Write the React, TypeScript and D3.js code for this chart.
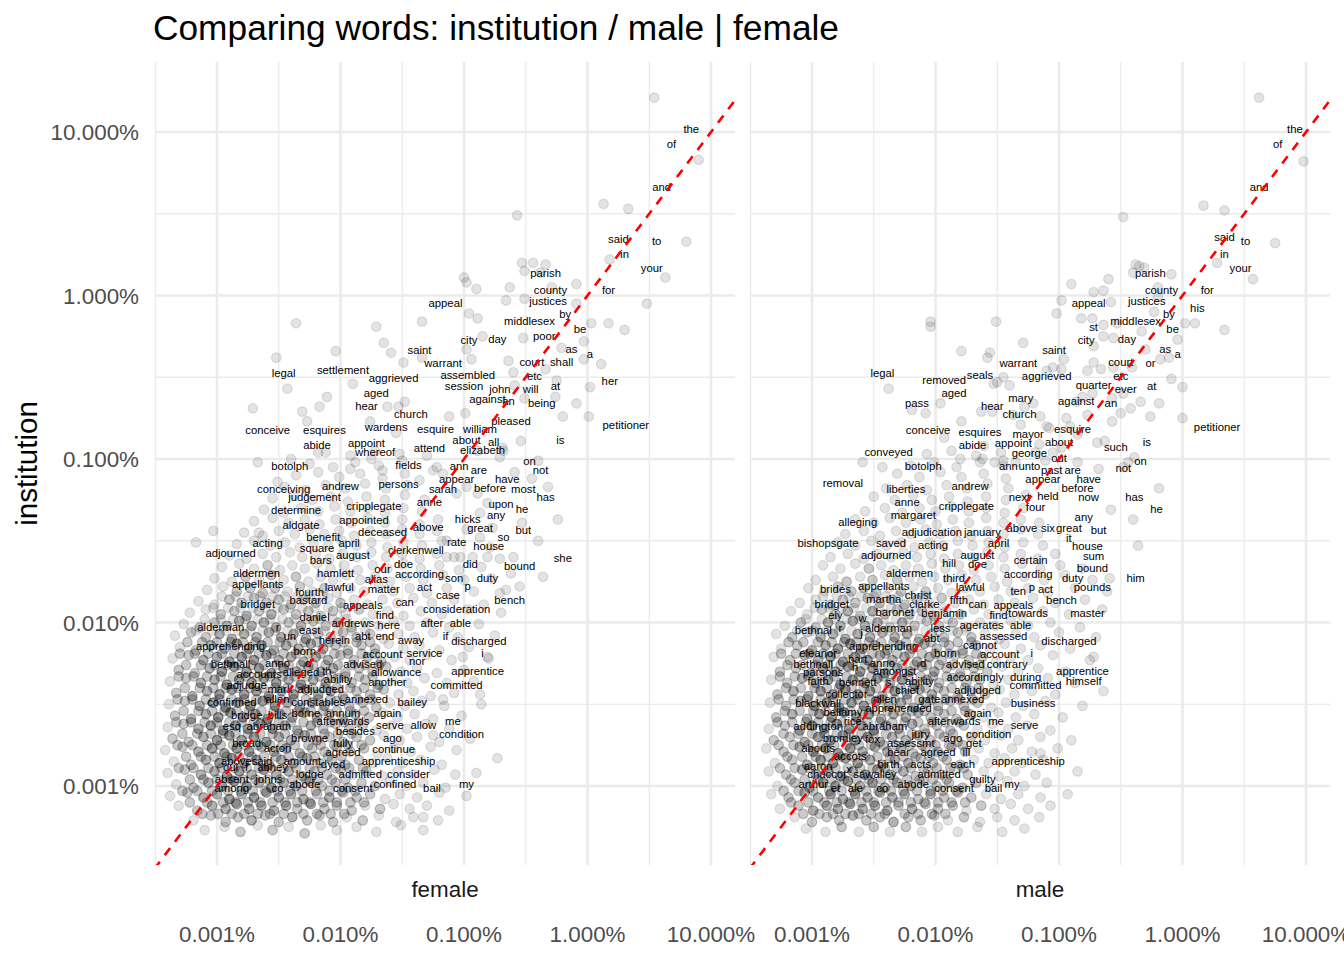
import * as d3 from "d3";
import React, { useEffect, useRef } from "react";

// every share below is log10 of the word's percentage in its corpus
const panels = ["female", "male"];
const tickValues = [0.001, 0.01, 0.1, 1, 10];
const tickLabels = ["0.001%", "0.010%", "0.100%", "1.000%", "10.000%"];
const minorTicks = [0.0003162, 0.003162, 0.03162, 0.3162, 3.162];

// [word, female, institution]
const femaleLabels: [string, number, number][] = [
  ["the", 0.84, 1.07], ["of", 0.68, 0.98], ["and", 0.6, 0.72], ["said", 0.25, 0.4], ["to", 0.56, 0.39],
  ["in", 0.3, 0.31], ["your", 0.52, 0.22], ["parish", -0.34, 0.19], ["county", -0.3, 0.09], ["for", 0.17, 0.09],
  ["justices", -0.32, 0.02], ["appeal", -1.15, 0.01], ["by", -0.18, -0.06], ["middlesex", -0.47, -0.1],
  ["be", -0.06, -0.15], ["poor", -0.35, -0.19], ["day", -0.73, -0.21], ["city", -0.96, -0.22], ["as", -0.13, -0.27],
  ["a", 0.02, -0.3], ["saint", -1.36, -0.28], ["court", -0.45, -0.35], ["shall", -0.21, -0.35], ["warrant", -1.17, -0.36],
  ["legal", -2.46, -0.42], ["settlement", -1.98, -0.4], ["aggrieved", -1.57, -0.45], ["assembled", -0.97, -0.43],
  ["etc", -0.43, -0.44], ["her", 0.18, -0.47], ["session", -1.0, -0.5], ["john", -0.71, -0.52], ["will", -0.46, -0.52],
  ["at", -0.26, -0.5], ["aged", -1.71, -0.54], ["against", -0.81, -0.58], ["an", -0.64, -0.59], ["being", -0.37, -0.6],
  ["hear", -1.79, -0.62], ["church", -1.43, -0.67], ["pleased", -0.62, -0.71], ["petitioner", 0.31, -0.74],
  ["conceive", -2.59, -0.77], ["esquires", -2.13, -0.77], ["wardens", -1.63, -0.75], ["esquire", -1.23, -0.76],
  ["william", -0.87, -0.76], ["abide", -2.19, -0.86], ["appoint", -1.79, -0.85], ["whereof", -1.72, -0.9],
  ["attend", -1.28, -0.88], ["about", -0.98, -0.83], ["all", -0.76, -0.84], ["elizabeth", -0.85, -0.89], ["is", -0.22, -0.83],
  ["botolph", -2.41, -0.99], ["fields", -1.45, -0.98], ["ann", -1.04, -0.99], ["are", -0.88, -1.01], ["on", -0.47, -0.96],
  ["not", -0.38, -1.01], ["conceiving", -2.46, -1.13], ["andrew", -2.0, -1.11], ["persons", -1.53, -1.1],
  ["appear", -1.06, -1.07], ["have", -0.65, -1.07], ["sarah", -1.17, -1.13], ["before", -0.79, -1.12], ["most", -0.52, -1.13],
  ["has", -0.34, -1.18], ["judgement", -2.21, -1.18], ["cripplegate", -1.73, -1.23], ["anne", -1.28, -1.21],
  ["upon", -0.7, -1.22], ["he", -0.53, -1.25], ["determine", -2.36, -1.26], ["any", -0.74, -1.29], ["appointed", -1.81, -1.32],
  ["hicks", -0.97, -1.31], ["aldgate", -2.32, -1.35], ["above", -1.29, -1.36], ["great", -0.87, -1.37], ["but", -0.52, -1.38],
  ["benefit", -2.14, -1.42], ["deceased", -1.66, -1.39], ["so", -0.68, -1.42], ["acting", -2.59, -1.46], ["april", -1.93, -1.46],
  ["rate", -1.06, -1.45], ["house", -0.8, -1.48], ["square", -2.19, -1.49], ["clerkenwell", -1.39, -1.5], ["she", -0.2, -1.55],
  ["adjourned", -2.89, -1.52], ["bars", -2.16, -1.56], ["august", -1.9, -1.53], ["did", -0.95, -1.59], ["doe", -1.49, -1.59],
  ["bound", -0.55, -1.6], ["aldermen", -2.68, -1.64], ["hamlett", -2.04, -1.64], ["our", -1.66, -1.62], ["according", -1.36, -1.65],
  ["son", -1.08, -1.67], ["duty", -0.81, -1.67], ["alias", -1.71, -1.68], ["appellants", -2.67, -1.71], ["fourth", -2.25, -1.76],
  ["lawful", -2.01, -1.73], ["matter", -1.65, -1.74], ["act", -1.32, -1.73], ["p", -0.97, -1.72], ["case", -1.13, -1.78],
  ["bastard", -2.26, -1.81], ["bench", -0.63, -1.81], ["bridget", -2.67, -1.83], ["appeals", -1.82, -1.84], ["can", -1.48, -1.82],
  ["consideration", -1.06, -1.86], ["find", -1.64, -1.9], ["daniel", -2.21, -1.91], ["alderman", -2.97, -1.97], ["r", -2.51, -1.97],
  ["andrews", -1.9, -1.95], ["here", -1.61, -1.96], ["after", -1.26, -1.95], ["able", -1.03, -1.95], ["east", -2.25, -1.99],
  ["un", -2.41, -2.03], ["herein", -2.05, -2.05], ["abt", -1.82, -2.03], ["end", -1.64, -2.03], ["away", -1.43, -2.05],
  ["if", -1.15, -2.03], ["discharged", -0.88, -2.06], ["apprehending", -2.89, -2.09], ["born", -2.29, -2.12],
  ["account", -1.66, -2.14], ["service", -1.32, -2.13], ["i", -0.85, -2.13], ["nor", -1.38, -2.18], ["bethnall", -2.89, -2.2],
  ["anno", -2.51, -2.19], ["d", -2.26, -2.19], ["advised", -1.82, -2.2], ["apprentice", -0.89, -2.24], ["accounts", -2.66, -2.26],
  ["alleged", -2.32, -2.25], ["th", -2.11, -2.24], ["allowance", -1.55, -2.25], ["ability", -2.02, -2.29], ["another", -1.62, -2.31],
  ["committed", -1.06, -2.33], ["adjudge", -2.76, -2.33], ["mark", -2.49, -2.35], ["adjudged", -2.16, -2.35],
  ["confirmed", -2.88, -2.43], ["allen", -2.51, -2.41], ["constables", -2.18, -2.43], ["annexed", -1.79, -2.41],
  ["bailey", -1.42, -2.43], ["bridge", -2.76, -2.51], ["bills", -2.51, -2.51], ["borne", -2.28, -2.5], ["annum", -1.98, -2.5],
  ["again", -1.62, -2.5], ["esq", -2.88, -2.58], ["abraham", -2.58, -2.58], ["afterwards", -1.98, -2.55], ["serve", -1.6, -2.57],
  ["allow", -1.33, -2.57], ["me", -1.09, -2.55], ["besides", -1.88, -2.61], ["condition", -1.02, -2.63], ["browne", -2.25, -2.65],
  ["ago", -1.58, -2.65], ["broad", -2.76, -2.68], ["acton", -2.51, -2.71], ["fully", -1.98, -2.68], ["agreed", -1.98, -2.74],
  ["continue", -1.57, -2.72], ["abovesaid", -2.76, -2.79], ["amount", -2.31, -2.79], ["apprenticeship", -1.53, -2.79],
  ["dyed", -2.06, -2.81], ["dui", -2.89, -2.83], ["f", -2.76, -2.83], ["abney", -2.55, -2.83], ["lodge", -2.25, -2.87],
  ["admitted", -1.84, -2.87], ["consider", -1.45, -2.87], ["absent", -2.88, -2.9], ["johns", -2.58, -2.9],
  ["confined", -1.56, -2.93], ["among", -2.88, -2.96], ["co", -2.51, -2.96], ["abode", -2.29, -2.93], ["consent", -1.9, -2.96],
  ["bail", -1.26, -2.96], ["my", -0.98, -2.93],
];

// [word, male, institution]
const maleLabels: [string, number, number][] = [
  ["the", 0.91, 1.07], ["of", 0.77, 0.98], ["and", 0.62, 0.72], ["said", 0.34, 0.41], ["to", 0.51, 0.39],
  ["in", 0.34, 0.31], ["your", 0.47, 0.22], ["parish", -0.26, 0.19], ["county", -0.17, 0.09], ["for", 0.2, 0.09],
  ["justices", -0.29, 0.02], ["appeal", -0.76, 0.01], ["his", 0.12, -0.02], ["by", -0.11, -0.06], ["middlesex", -0.38, -0.1],
  ["st", -0.72, -0.14], ["be", -0.08, -0.15], ["city", -0.78, -0.22], ["day", -0.45, -0.21], ["saint", -1.04, -0.28],
  ["as", -0.14, -0.27], ["a", -0.04, -0.3], ["court", -0.5, -0.35], ["or", -0.26, -0.36], ["warrant", -1.33, -0.36],
  ["legal", -2.43, -0.42], ["seals", -1.64, -0.43], ["removed", -1.93, -0.46], ["aggrieved", -1.1, -0.44], ["etc", -0.5, -0.44],
  ["quarter", -0.72, -0.49], ["ever", -0.46, -0.52], ["at", -0.25, -0.5], ["aged", -1.85, -0.54], ["mary", -1.31, -0.57],
  ["pass", -2.15, -0.6], ["against", -0.86, -0.59], ["an", -0.58, -0.6], ["hear", -1.54, -0.62], ["church", -1.32, -0.67],
  ["petitioner", 0.28, -0.75], ["conceive", -2.06, -0.77], ["esquires", -1.64, -0.78], ["esquire", -0.89, -0.76],
  ["mayor", -1.25, -0.79], ["abide", -1.7, -0.86], ["appoint", -1.37, -0.85], ["about", -1.0, -0.84], ["is", -0.29, -0.84],
  ["such", -0.54, -0.87], ["conveyed", -2.38, -0.9], ["george", -1.24, -0.91], ["out", -1.0, -0.94], ["on", -0.34, -0.96],
  ["botolph", -2.1, -0.99], ["ann", -1.41, -0.99], ["unto", -1.24, -0.99], ["not", -0.48, -1.0], ["past", -1.06, -1.01],
  ["are", -0.89, -1.01], ["removal", -2.75, -1.09], ["have", -0.76, -1.07], ["appear", -1.13, -1.07], ["liberties", -2.24, -1.13],
  ["andrew", -1.72, -1.11], ["held", -1.09, -1.17], ["before", -0.85, -1.12], ["now", -0.76, -1.18], ["has", -0.39, -1.18],
  ["next", -1.32, -1.18], ["anne", -2.23, -1.21], ["cripplegate", -1.75, -1.23], ["four", -1.19, -1.24], ["he", -0.21, -1.25],
  ["any", -0.8, -1.3], ["margaret", -2.18, -1.29], ["alleging", -2.63, -1.33], ["adjudication", -2.03, -1.39],
  ["january", -1.62, -1.39], ["above", -1.3, -1.37], ["six", -1.09, -1.37], ["great", -0.92, -1.37], ["but", -0.68, -1.38],
  ["it", -0.92, -1.43], ["bishopsgate", -2.87, -1.46], ["saved", -2.36, -1.46], ["acting", -2.02, -1.47], ["april", -1.49, -1.46],
  ["house", -0.77, -1.48], ["adjourned", -2.4, -1.53], ["august", -1.66, -1.53], ["certain", -1.23, -1.56], ["sum", -0.72, -1.54],
  ["hill", -1.89, -1.58], ["doe", -1.66, -1.59], ["bound", -0.73, -1.61], ["aldermen", -2.21, -1.64], ["according", -1.25, -1.65],
  ["third", -1.85, -1.67], ["duty", -0.89, -1.67], ["him", -0.38, -1.67], ["brides", -2.81, -1.74], ["appellants", -2.42, -1.72],
  ["lawful", -1.72, -1.73], ["p", -1.22, -1.73], ["act", -1.11, -1.74], ["pounds", -0.73, -1.73], ["ten", -1.33, -1.75],
  ["martha", -2.42, -1.8], ["christ", -2.14, -1.78], ["fifth", -1.81, -1.81], ["bench", -0.98, -1.81], ["bridget", -2.84, -1.83],
  ["clarke", -2.09, -1.83], ["can", -1.66, -1.83], ["appeals", -1.37, -1.84], ["ely", -2.81, -1.9], ["baronet", -2.33, -1.88],
  ["benjamin", -1.93, -1.89], ["find", -1.49, -1.9], ["towards", -1.25, -1.89], ["master", -0.77, -1.89], ["w", -2.59, -1.92],
  ["bethnal", -2.99, -1.99], ["r", -2.77, -1.98], ["j", -2.6, -2.01], ["alderman", -2.38, -1.98], ["less", -1.96, -1.98],
  ["age", -1.73, -1.96], ["rates", -1.55, -1.96], ["able", -1.31, -1.96], ["abt", -2.03, -2.04], ["assessed", -1.45, -2.03],
  ["discharged", -0.92, -2.06], ["apprehending", -2.42, -2.09], ["cannot", -1.64, -2.08], ["eleanor", -2.95, -2.13],
  ["born", -1.92, -2.13], ["account", -1.48, -2.14], ["i", -1.22, -2.13], ["bethnall", -2.99, -2.2], ["hart", -2.63, -2.17],
  ["anno", -2.43, -2.19], ["d", -2.1, -2.19], ["advised", -1.76, -2.2], ["contrary", -1.42, -2.2], ["h", -2.65, -2.22],
  ["amongst", -2.33, -2.24], ["apprentice", -0.81, -2.24], ["parsons", -2.91, -2.25], ["accordingly", -1.68, -2.28],
  ["during", -1.27, -2.28], ["faith", -2.95, -2.3], ["bennett", -2.63, -2.31], ["s", -2.38, -2.31], ["ability", -2.13, -2.3],
  ["himself", -0.8, -2.3], ["committed", -1.19, -2.33], ["collector", -2.72, -2.38], ["chief", -2.23, -2.36],
  ["adjudged", -1.66, -2.36], ["blackwall", -2.95, -2.44], ["allen", -2.41, -2.41], ["gate", -2.05, -2.41], ["annexed", -1.78, -2.41],
  ["business", -1.21, -2.44], ["bellamy", -2.75, -2.49], ["apprehended", -2.3, -2.47], ["again", -1.66, -2.5], ["rice", -2.67, -2.55],
  ["afterwards", -1.85, -2.55], ["me", -1.51, -2.55], ["serve", -1.28, -2.57], ["addington", -2.95, -2.58], ["abraham", -2.41, -2.58],
  ["jury", -2.12, -2.63], ["condition", -1.57, -2.63], ["bromley", -2.75, -2.65], ["fox", -2.51, -2.66], ["ago", -1.86, -2.65],
  ["assessmt", -2.2, -2.68], ["get", -1.69, -2.68], ["abouts", -2.95, -2.71], ["accots", -2.69, -2.76], ["bear", -2.3, -2.74],
  ["agreed", -1.98, -2.74], ["ill", -1.75, -2.74], ["apprenticeship", -1.25, -2.79], ["aaron", -2.95, -2.82], ["x", -2.7, -2.84],
  ["birth", -2.38, -2.81], ["acts", -2.12, -2.81], ["each", -1.78, -2.81], ["chaccot", -2.88, -2.87], ["sawalley", -2.49, -2.87],
  ["admitted", -1.97, -2.87], ["guilty", -1.62, -2.9], ["arthur", -2.99, -2.93], ["my", -1.38, -2.93], ["et", -2.81, -2.96],
  ["ale", -2.65, -2.96], ["co", -2.43, -2.96], ["abode", -2.18, -2.93], ["consent", -1.85, -2.96], ["bail", -1.53, -2.96],
];

// [female, institution, words sharing the spot]
const femaleDots: [number, number, number][] = [
  [0.54, 1.21, 1], [0.9, 0.83, 1], [-0.57, 0.49, 1], [0.13, 0.56, 1], [0.33, 0.53, 1], [0.8, 0.33, 1], [0.18, 0.22, 1],
  [0.63, 0.11, 1], [0.48, -0.05, 1], [-0.53, 0.2, 1], [-0.44, 0.2, 1], [-0.34, 0.19, 1], [-0.51, 0.15, 1], [-0.38, 0.14, 1],
  [-1.0, 0.11, 1], [-0.98, 0.08, 1], [-0.9, 0.04, 1], [-0.63, 0.05, 1], [-0.29, 0.05, 1], [-0.09, 0.07, 1], [-0.66, -0.03, 1],
  [-0.51, -0.02, 1], [-0.09, -0.05, 1], [-2.36, -0.17, 1], [-1.71, -0.19, 1], [-1.34, -0.16, 1], [-0.96, -0.11, 1],
  [-0.89, -0.14, 1], [0.03, -0.17, 1], [0.17, -0.17, 1], [0.3, -0.21, 1], [-2.52, -0.38, 1], [-2.04, -0.34, 1], [-1.65, -0.29, 1],
  [-1.59, -0.35, 1], [-1.49, -0.41, 1], [-1.34, -0.38, 1], [-0.98, -0.33, 1], [-0.94, -0.39, 1], [-0.85, -0.25, 1],
  [-0.52, -0.26, 1], [-0.03, -0.28, 1], [-0.21, -0.32, 1], [0.11, -0.42, 1], [-0.03, -0.39, 1], [-0.64, -0.4, 1], [-0.6, -0.47, 1],
  [-0.34, -0.45, 1], [-2.43, -0.57, 1], [-1.9, -0.54, 1], [-2.11, -0.62, 1], [-2.17, -0.68, 1], [-2.71, -0.69, 1], [-2.31, -0.71, 1],
  [-2.27, -0.77, 1], [0.02, -0.56, 1], [-0.25, -0.52, 1], [-0.59, -0.55, 1], [-0.51, -0.63, 1], [-0.09, -0.66, 1], [-0.26, -0.62, 1],
  [0.01, -0.74, 1], [-0.2, -0.74, 1], [-1.62, -0.68, 1], [-1.53, -0.68, 1], [-1.48, -0.65, 1], [-1.12, -0.74, 1], [-0.99, -0.72, 1],
  [-1.76, -0.77, 1], [-1.55, -0.84, 1], [-2.18, -0.96, 1], [-2.67, -1.02, 1], [-2.51, -1.14, 1], [-2.4, -1.0, 1], [-0.69, -0.93, 1],
  [-0.54, -0.89, 1], [-0.71, -0.99, 1], [-0.4, -1.01, 1], [-1.75, -1.0, 1], [-1.66, -1.07, 1], [-1.92, -1.06, 1], [-1.3, -0.98, 1],
  [-1.22, -1.05, 1], [-3.17, -1.51, 1], [-3.03, -1.44, 1], [-2.66, -1.45, 1], [-0.24, -1.37, 1], [-0.32, -1.17, 1], [-0.4, -1.5, 1],
  [-0.36, -1.72, 1], [-0.62, -1.7, 1], [-0.6, -1.6, 1], [-0.53, -1.39, 1], [-0.45, -1.12, 1], [-0.59, -1.08, 1], [-0.81, -1.27, 1],
  [-0.87, -1.33, 1], [-0.77, -1.42, 1], [-0.79, -1.54, 1], [-0.71, -1.61, 1], [-0.81, -1.6, 1], [-0.93, -1.6, 1], [-1.03, -1.6, 1],
  [-1.14, -1.6, 1], [-1.14, -1.5, 1], [-0.87, -1.48, 1], [-0.98, -1.43, 1], [-0.89, -1.21, 1], [-0.98, -1.17, 1], [-1.06, -1.21, 1],
  [-1.17, -1.09, 1], [-1.25, -1.07, 1], [-1.36, -1.13, 1], [-0.89, -0.95, 1], [-0.68, -0.95, 1], [-0.55, -1.78, 1], [-0.71, -1.82, 1],
  [-0.73, -2.83, 1], [-1.07, -2.93, 1], [-0.87, -2.44, 1], [-1.17, -2.47, 1], [-0.81, -2.21, 1], [-1.01, -2.21, 1], [-1.25, -2.69, 1],
  [-1.33, -3.19, 1],
  [-3.1, -3.27, 1], [-2.94, -3.25, 1], [-2.81, -3.28, 2], [-2.67, -3.24, 1], [-2.55, -3.27, 2], [-2.42, -3.25, 1], [-2.29, -3.29, 2],
  [-2.16, -3.24, 1], [-2.03, -3.27, 1], [-1.87, -3.25, 1], [-1.71, -3.28, 1], [-1.51, -3.24, 1], [-1.33, -3.27, 1],
  [-3.19, -3.21, 1], [-3.05, -3.18, 2], [-2.93, -3.22, 2], [-2.83, -3.19, 2], [-2.72, -3.21, 3], [-2.61, -3.18, 2], [-2.5, -3.22, 2],
  [-2.39, -3.19, 3], [-2.27, -3.21, 2], [-2.17, -3.18, 2], [-2.06, -3.22, 2], [-1.95, -3.19, 1], [-1.82, -3.21, 2], [-1.69, -3.18, 1],
  [-1.55, -3.22, 1], [-1.41, -3.19, 1], [-1.21, -3.21, 1],
  [-3.31, -3.12, 1], [-3.16, -3.15, 2], [-3.04, -3.12, 3], [-2.93, -3.14, 3], [-2.84, -3.11, 3], [-2.74, -3.14, 3], [-2.64, -3.12, 3],
  [-2.54, -3.15, 3], [-2.44, -3.12, 3], [-2.35, -3.14, 2], [-2.24, -3.11, 3], [-2.13, -3.14, 2], [-2.03, -3.12, 2], [-1.91, -3.15, 2],
  [-1.8, -3.12, 1], [-1.68, -3.14, 2], [-1.57, -3.11, 1], [-1.44, -3.14, 1], [-1.3, -3.12, 1], [-1.12, -3.15, 1],
  [-3.38, -3.06, 1], [-3.24, -3.04, 2], [-3.11, -3.07, 3], [-3.0, -3.05, 3], [-2.9, -3.08, 4], [-2.8, -3.05, 3], [-2.7, -3.07, 4],
  [-2.6, -3.04, 3], [-2.5, -3.07, 3], [-2.4, -3.05, 3], [-2.3, -3.08, 3], [-2.19, -3.05, 2], [-2.09, -3.07, 3], [-1.98, -3.04, 2],
  [-1.87, -3.07, 2], [-1.76, -3.05, 2], [-1.64, -3.08, 1], [-1.52, -3.05, 1], [-1.38, -3.07, 1], [-1.2, -3.04, 1], [-0.98, -3.06, 1],
  [-3.33, -2.99, 1], [-3.19, -3.01, 2], [-3.07, -2.98, 3], [-2.96, -3.0, 4], [-2.86, -2.97, 4], [-2.76, -3.0, 4], [-2.66, -2.98, 3],
  [-2.56, -3.01, 4], [-2.46, -2.98, 3], [-2.36, -3.0, 3], [-2.25, -2.97, 3], [-2.15, -3.0, 2], [-2.04, -2.98, 2], [-1.94, -3.01, 2],
  [-1.83, -2.98, 2], [-1.72, -3.0, 2], [-1.6, -2.97, 1], [-1.47, -3.0, 1], [-1.33, -2.98, 1], [-1.15, -3.01, 1],
  [-3.4, -2.92, 1], [-3.26, -2.9, 2], [-3.13, -2.93, 3], [-3.02, -2.91, 3], [-2.92, -2.94, 4], [-2.82, -2.91, 4], [-2.72, -2.93, 3],
  [-2.62, -2.9, 4], [-2.52, -2.93, 3], [-2.42, -2.91, 3], [-2.31, -2.94, 3], [-2.21, -2.91, 2], [-2.11, -2.93, 2], [-2.0, -2.9, 2],
  [-1.9, -2.93, 1], [-1.79, -2.91, 2], [-1.66, -2.94, 1], [-1.54, -2.91, 1], [-1.41, -2.93, 1], [-1.24, -2.9, 1], [-0.9, -2.92, 1],
  [-3.35, -2.85, 1], [-3.21, -2.87, 2], [-3.09, -2.84, 3], [-2.98, -2.86, 4], [-2.88, -2.83, 4], [-2.78, -2.86, 4], [-2.68, -2.84, 4],
  [-2.58, -2.87, 3], [-2.48, -2.84, 3], [-2.38, -2.86, 3], [-2.27, -2.83, 3], [-2.17, -2.86, 2], [-2.07, -2.84, 2], [-1.96, -2.87, 2],
  [-1.85, -2.84, 2], [-1.74, -2.86, 1], [-1.62, -2.83, 1], [-1.49, -2.86, 1], [-1.35, -2.84, 1], [-1.18, -2.87, 1],
  [-3.42, -2.78, 1], [-3.28, -2.76, 2], [-3.15, -2.79, 3], [-3.04, -2.77, 4], [-2.94, -2.8, 4], [-2.84, -2.77, 4], [-2.74, -2.79, 4],
  [-2.64, -2.76, 3], [-2.54, -2.79, 3], [-2.44, -2.77, 3], [-2.33, -2.8, 3], [-2.23, -2.77, 2], [-2.13, -2.79, 2], [-2.03, -2.76, 2],
  [-1.92, -2.79, 2], [-1.81, -2.77, 2], [-1.7, -2.8, 1], [-1.57, -2.77, 1], [-1.43, -2.79, 1], [-1.27, -2.76, 1], [-1.06, -2.78, 1],
  [-3.36, -2.71, 2], [-3.23, -2.73, 2], [-3.11, -2.7, 3], [-3.0, -2.72, 4], [-2.9, -2.69, 4], [-2.8, -2.72, 4], [-2.7, -2.7, 4],
  [-2.6, -2.73, 4], [-2.5, -2.7, 3], [-2.4, -2.72, 3], [-2.29, -2.69, 3], [-2.19, -2.72, 3], [-2.09, -2.7, 2], [-1.98, -2.73, 2],
  [-1.87, -2.7, 2], [-1.76, -2.72, 2], [-1.65, -2.69, 1], [-1.52, -2.72, 1], [-1.38, -2.7, 1], [-1.2, -2.73, 1], [-0.95, -2.71, 1],
  [-3.4, -2.64, 1], [-3.27, -2.62, 2], [-3.15, -2.65, 3], [-3.05, -2.63, 4], [-2.95, -2.66, 4], [-2.85, -2.63, 4], [-2.75, -2.65, 4],
  [-2.65, -2.62, 4], [-2.55, -2.65, 4], [-2.45, -2.63, 3], [-2.35, -2.66, 3], [-2.24, -2.63, 3], [-2.14, -2.65, 2], [-2.04, -2.62, 2],
  [-1.93, -2.65, 2], [-1.82, -2.63, 2], [-1.71, -2.66, 1], [-1.59, -2.63, 1], [-1.46, -2.65, 1], [-1.31, -2.62, 1], [-1.12, -2.65, 1],
  [-3.34, -2.57, 2], [-3.21, -2.59, 3], [-3.09, -2.56, 3], [-2.99, -2.58, 4], [-2.89, -2.55, 4], [-2.79, -2.58, 4], [-2.69, -2.56, 4],
  [-2.59, -2.59, 4], [-2.49, -2.56, 3], [-2.39, -2.58, 3], [-2.29, -2.55, 3], [-2.19, -2.58, 3], [-2.09, -2.56, 2], [-1.98, -2.59, 2],
  [-1.88, -2.56, 2], [-1.77, -2.58, 2], [-1.66, -2.55, 1], [-1.54, -2.58, 1], [-1.4, -2.56, 1], [-1.25, -2.59, 1], [-1.02, -2.57, 1],
  [-3.39, -2.5, 1], [-3.26, -2.48, 2], [-3.14, -2.51, 3], [-3.03, -2.49, 4], [-2.93, -2.52, 4], [-2.83, -2.49, 4], [-2.73, -2.51, 4],
  [-2.63, -2.48, 4], [-2.53, -2.51, 4], [-2.43, -2.49, 3], [-2.33, -2.52, 3], [-2.23, -2.49, 3], [-2.13, -2.51, 3], [-2.03, -2.48, 2],
  [-1.93, -2.51, 2], [-1.82, -2.49, 2], [-1.71, -2.52, 2], [-1.6, -2.49, 1], [-1.48, -2.51, 1], [-1.34, -2.48, 1], [-1.16, -2.51, 1],
  [-0.86, -2.5, 1],
  [-3.33, -2.43, 2], [-3.2, -2.45, 3], [-3.08, -2.42, 3], [-2.98, -2.44, 4], [-2.88, -2.41, 4], [-2.78, -2.44, 4], [-2.68, -2.42, 4],
  [-2.58, -2.45, 4], [-2.48, -2.42, 3], [-2.38, -2.44, 4], [-2.28, -2.41, 3], [-2.18, -2.44, 3], [-2.08, -2.42, 3], [-1.98, -2.45, 2],
  [-1.87, -2.42, 2], [-1.76, -2.44, 2], [-1.65, -2.41, 2], [-1.53, -2.44, 1], [-1.41, -2.42, 1], [-1.27, -2.45, 1], [-1.08, -2.43, 1],
  [-3.38, -2.36, 1], [-3.25, -2.34, 2], [-3.13, -2.37, 3], [-3.02, -2.35, 3], [-2.92, -2.38, 4], [-2.82, -2.35, 4], [-2.72, -2.37, 4],
  [-2.62, -2.34, 4], [-2.52, -2.37, 4], [-2.42, -2.35, 3], [-2.32, -2.38, 4], [-2.22, -2.35, 3], [-2.12, -2.37, 3], [-2.02, -2.34, 2],
  [-1.91, -2.37, 2], [-1.8, -2.35, 2], [-1.69, -2.38, 2], [-1.58, -2.35, 1], [-1.46, -2.37, 1], [-1.32, -2.34, 1], [-1.14, -2.37, 1],
  [-0.92, -2.36, 1],
  [-3.31, -2.29, 2], [-3.18, -2.31, 2], [-3.06, -2.28, 3], [-2.96, -2.3, 4], [-2.86, -2.27, 4], [-2.76, -2.3, 4], [-2.66, -2.28, 4],
  [-2.56, -2.31, 4], [-2.46, -2.28, 4], [-2.36, -2.3, 3], [-2.26, -2.27, 3], [-2.16, -2.3, 3], [-2.06, -2.28, 3], [-1.96, -2.31, 2],
  [-1.85, -2.28, 2], [-1.74, -2.3, 2], [-1.63, -2.27, 2], [-1.51, -2.3, 1], [-1.38, -2.28, 1], [-1.22, -2.31, 1], [-1.0, -2.29, 1],
  [-3.36, -2.22, 1], [-3.23, -2.2, 2], [-3.11, -2.23, 3], [-3.0, -2.21, 3], [-2.9, -2.24, 4], [-2.8, -2.21, 4], [-2.7, -2.23, 4],
  [-2.6, -2.2, 4], [-2.5, -2.23, 3], [-2.4, -2.21, 3], [-2.3, -2.24, 3], [-2.2, -2.21, 3], [-2.1, -2.23, 3], [-2.0, -2.2, 2],
  [-1.89, -2.23, 2], [-1.78, -2.21, 2], [-1.67, -2.24, 2], [-1.56, -2.21, 1], [-1.44, -2.23, 1], [-1.3, -2.2, 1], [-1.1, -2.23, 1],
  [-0.8, -2.22, 1],
  [-3.3, -2.15, 1], [-3.17, -2.17, 2], [-3.05, -2.14, 3], [-2.94, -2.16, 3], [-2.84, -2.13, 4], [-2.74, -2.16, 4], [-2.64, -2.14, 4],
  [-2.54, -2.17, 3], [-2.44, -2.14, 3], [-2.34, -2.16, 3], [-2.24, -2.13, 3], [-2.14, -2.16, 3], [-2.04, -2.14, 2], [-1.94, -2.17, 2],
  [-1.83, -2.14, 2], [-1.72, -2.16, 2], [-1.61, -2.13, 1], [-1.49, -2.16, 1], [-1.36, -2.14, 1], [-1.2, -2.17, 1], [-0.96, -2.15, 1],
  [-3.34, -2.08, 1], [-3.21, -2.06, 2], [-3.09, -2.09, 2], [-2.98, -2.07, 3], [-2.88, -2.1, 3], [-2.78, -2.07, 3], [-2.68, -2.09, 3],
  [-2.58, -2.06, 3], [-2.48, -2.09, 3], [-2.38, -2.07, 3], [-2.28, -2.1, 3], [-2.18, -2.07, 2], [-2.08, -2.09, 2], [-1.98, -2.06, 2],
  [-1.87, -2.09, 2], [-1.76, -2.07, 2], [-1.65, -2.1, 1], [-1.53, -2.07, 1], [-1.4, -2.09, 1], [-1.25, -2.06, 1], [-1.05, -2.09, 1],
  [-0.75, -2.08, 1],
  [-3.27, -2.01, 1], [-3.14, -2.03, 2], [-3.02, -2.0, 2], [-2.92, -2.02, 3], [-2.82, -1.99, 3], [-2.72, -2.02, 3], [-2.62, -2.0, 3],
  [-2.52, -2.03, 3], [-2.42, -2.0, 2], [-2.32, -2.02, 3], [-2.22, -1.99, 2], [-2.12, -2.02, 2], [-2.02, -2.0, 2], [-1.91, -2.03, 2],
  [-1.8, -2.0, 1], [-1.69, -2.02, 1], [-1.57, -1.99, 1], [-1.44, -2.02, 1], [-1.3, -2.0, 1], [-1.12, -2.03, 1], [-0.88, -2.01, 1],
  [-3.22, -1.94, 1], [-3.09, -1.92, 1], [-2.97, -1.95, 2], [-2.86, -1.93, 2], [-2.76, -1.96, 3], [-2.66, -1.93, 2], [-2.56, -1.95, 3],
  [-2.46, -1.92, 2], [-2.36, -1.95, 2], [-2.26, -1.93, 2], [-2.16, -1.96, 2], [-2.06, -1.93, 2], [-1.96, -1.95, 1], [-1.85, -1.92, 2],
  [-1.74, -1.95, 1], [-1.62, -1.93, 1], [-1.49, -1.96, 1], [-1.35, -1.93, 1], [-1.18, -1.95, 1], [-0.97, -1.92, 1], [-0.7, -1.94, 1],
  [-3.15, -1.87, 1], [-3.02, -1.89, 1], [-2.9, -1.86, 2], [-2.8, -1.88, 2], [-2.7, -1.85, 2], [-2.6, -1.88, 2], [-2.5, -1.86, 2],
  [-2.4, -1.89, 2], [-2.3, -1.86, 2], [-2.2, -1.88, 2], [-2.1, -1.85, 1], [-2.0, -1.88, 2], [-1.89, -1.86, 1], [-1.78, -1.89, 1],
  [-1.66, -1.86, 1], [-1.54, -1.88, 1], [-1.41, -1.85, 1], [-1.26, -1.88, 1], [-1.08, -1.86, 1], [-0.84, -1.89, 1],
  [-3.08, -1.8, 1], [-2.95, -1.78, 1], [-2.84, -1.81, 2], [-2.73, -1.79, 2], [-2.63, -1.82, 2], [-2.53, -1.79, 2], [-2.43, -1.81, 1],
  [-2.33, -1.78, 2], [-2.23, -1.81, 1], [-2.13, -1.79, 2], [-2.03, -1.82, 1], [-1.92, -1.79, 1], [-1.81, -1.81, 1], [-1.69, -1.78, 1],
  [-1.57, -1.81, 1], [-1.44, -1.79, 1], [-1.3, -1.82, 1], [-1.14, -1.79, 1], [-0.92, -1.81, 1], [-0.66, -1.8, 1],
  [-3.02, -1.73, 1], [-2.88, -1.75, 1], [-2.77, -1.72, 2], [-2.66, -1.74, 1], [-2.56, -1.71, 2], [-2.46, -1.74, 1], [-2.36, -1.72, 2],
  [-2.26, -1.75, 1], [-2.16, -1.72, 1], [-2.06, -1.74, 1], [-1.95, -1.71, 1], [-1.84, -1.74, 1], [-1.72, -1.72, 1], [-1.6, -1.75, 1],
  [-1.47, -1.72, 1], [-1.33, -1.74, 1], [-1.17, -1.71, 1], [-1.0, -1.74, 1], [-0.78, -1.73, 1],
  [-2.96, -1.66, 1], [-2.82, -1.64, 1], [-2.7, -1.67, 1], [-2.59, -1.65, 2], [-2.49, -1.68, 1], [-2.39, -1.65, 1], [-2.29, -1.67, 1],
  [-2.19, -1.64, 1], [-2.08, -1.67, 1], [-1.97, -1.65, 1], [-1.86, -1.68, 1], [-1.74, -1.65, 1], [-1.62, -1.67, 1], [-1.49, -1.64, 1],
  [-1.35, -1.67, 1], [-1.2, -1.65, 1], [-1.04, -1.68, 1], [-0.86, -1.66, 1],
  [-2.9, -1.59, 1], [-2.76, -1.61, 1], [-2.63, -1.58, 1], [-2.52, -1.6, 1], [-2.41, -1.57, 1], [-2.31, -1.6, 1], [-2.2, -1.58, 1],
  [-2.09, -1.61, 1], [-1.98, -1.58, 1], [-1.87, -1.6, 1], [-1.75, -1.57, 1], [-1.63, -1.6, 1], [-1.5, -1.58, 1], [-1.36, -1.61, 1],
  [-1.22, -1.58, 1], [-1.08, -1.6, 1],
  [-2.84, -1.52, 1], [-2.7, -1.5, 1], [-2.57, -1.53, 1], [-2.45, -1.51, 1], [-2.33, -1.54, 1], [-2.22, -1.51, 1], [-2.1, -1.53, 1],
  [-1.99, -1.5, 1], [-1.87, -1.53, 1], [-1.75, -1.51, 1], [-1.62, -1.54, 1], [-1.49, -1.51, 1], [-1.34, -1.53, 1], [-1.18, -1.5, 1],
  [-2.78, -1.45, 1], [-2.63, -1.47, 1], [-2.5, -1.44, 1], [-2.37, -1.46, 1], [-2.25, -1.43, 1], [-2.13, -1.46, 1], [-2.01, -1.44, 1],
  [-1.89, -1.47, 1], [-1.76, -1.44, 1], [-1.63, -1.46, 1], [-1.5, -1.43, 1], [-1.36, -1.46, 1], [-1.22, -1.44, 1],
  [-2.7, -1.38, 1], [-2.55, -1.36, 1], [-2.42, -1.39, 1], [-2.29, -1.37, 1], [-2.17, -1.4, 1], [-2.04, -1.37, 1], [-1.91, -1.39, 1],
  [-1.78, -1.36, 1], [-1.64, -1.39, 1], [-1.5, -1.37, 1], [-1.36, -1.4, 1], [-1.21, -1.37, 1],
  [-2.62, -1.31, 1], [-2.46, -1.33, 1], [-2.32, -1.3, 1], [-2.18, -1.32, 1], [-2.05, -1.29, 1], [-1.92, -1.32, 1], [-1.78, -1.3, 1],
  [-1.64, -1.33, 1], [-1.49, -1.3, 1], [-1.34, -1.32, 1],
  [-2.55, -1.24, 1], [-2.38, -1.22, 1], [-2.23, -1.25, 1], [-2.08, -1.23, 1], [-1.94, -1.26, 1], [-1.79, -1.23, 1], [-1.64, -1.25, 1],
  [-1.48, -1.22, 1], [-1.32, -1.25, 1],
  [-2.45, -1.17, 1], [-2.28, -1.19, 1], [-2.12, -1.16, 1], [-1.96, -1.18, 1], [-1.8, -1.15, 1], [-1.63, -1.18, 1], [-1.46, -1.16, 1],
  [-2.36, -1.1, 1], [-2.18, -1.08, 1], [-2.01, -1.11, 1], [-1.84, -1.09, 1], [-1.66, -1.12, 1], [-1.48, -1.09, 1],
  [-2.25, -1.03, 1], [-2.06, -1.05, 1], [-1.88, -1.02, 1], [-1.69, -1.04, 1], [-1.5, -1.01, 1],
  [-2.12, -0.96, 1], [-1.92, -0.98, 1], [-1.72, -0.95, 1], [-1.52, -0.97, 1],
];

// [male, institution, words sharing the spot]
const maleDots: [number, number, number][] = [
  [0.62, 1.21, 1], [0.98, 0.82, 1], [0.17, 0.55, 1], [0.34, 0.52, 1], [-0.48, 0.48, 1], [0.75, 0.32, 1], [0.28, 0.2, 1],
  [0.57, 0.1, 1], [-0.38, 0.19, 1], [-0.35, 0.18, 1], [-0.31, 0.17, 1], [-0.4, 0.14, 1], [-0.09, 0.13, 1], [-0.9, 0.07, 1],
  [-0.6, 0.1, 1], [-0.72, 0.02, 1], [-0.64, 0.03, 1], [-0.2, 0.05, 1], [-0.2, -0.01, 1], [-0.58, -0.04, 1], [-0.98, -0.03, 1],
  [-1.02, -0.11, 1], [-0.23, -0.1, 1], [0.02, -0.17, 1], [0.1, -0.17, 1], [0.34, -0.21, 1], [-0.82, -0.14, 1], [-0.73, -0.14, 1],
  [-0.64, -0.18, 1], [-0.53, -0.17, 1], [-0.33, -0.22, 1], [-0.64, -0.25, 1], [-0.56, -0.26, 1], [-0.04, -0.27, 1], [-0.72, -0.31, 1],
  [-0.3, -0.33, 1], [-0.18, -0.39, 1], [-0.11, -0.38, 1], [-0.41, -0.44, 1], [-0.72, -0.41, 1], [-0.77, -0.46, 1], [-0.66, -0.45, 1],
  [-0.56, -0.44, 1], [-0.09, -0.51, 1], [0.0, -0.56, 1], [-0.19, -0.66, 1], [-0.34, -0.65, 1], [-0.48, -0.6, 1], [-0.57, -0.63, 1],
  [-0.42, -0.69, 1], [-0.26, -0.74, 1], [0.0, -0.75, 1], [-0.5, -0.72, 1], [-0.57, -0.77, 1], [-0.73, -0.6, 1], [-0.81, -0.62, 1],
  [-0.86, -0.65, 1], [-0.77, -0.73, 1], [-0.94, -0.75, 1], [-0.91, -0.8, 1], [-0.69, -0.9, 1], [-0.63, -0.89, 1], [-0.39, -0.99, 1],
  [-0.44, -1.02, 1], [-0.48, -1.05, 1], [-2.04, -0.16, 1], [-2.04, -0.19, 1], [-1.51, -0.16, 1], [-1.79, -0.34, 1], [-1.56, -0.35, 1],
  [-1.58, -0.38, 1], [-1.29, -0.29, 1], [-0.96, -0.39, 1], [-0.98, -0.45, 1], [-1.1, -0.46, 1], [-1.05, -0.44, 1], [-1.5, -0.53, 1],
  [-1.4, -0.55, 1], [-1.45, -0.5, 1], [-1.53, -0.54, 1], [-2.38, -0.57, 1], [-1.96, -0.66, 1], [-2.19, -0.7, 1], [-2.08, -0.72, 1],
  [-1.63, -0.71, 1], [-1.54, -0.71, 1], [-1.21, -0.66, 1], [-1.28, -0.68, 1], [-1.37, -0.73, 1], [-1.31, -0.79, 1], [-1.15, -0.74, 1],
  [-1.1, -0.8, 1], [-1.79, -0.77, 1], [-1.93, -0.87, 1], [-1.61, -0.92, 1], [-1.16, -0.91, 1], [-1.08, -0.81, 1], [-1.19, -0.96, 1],
  [-1.05, -0.96, 1], [-0.98, -0.93, 1], [-0.85, -0.85, 1], [-2.59, -1.02, 1], [-2.43, -1.05, 1], [-1.8, -1.0, 1], [-1.62, -1.0, 1],
  [-1.52, -1.02, 1], [-1.45, -1.01, 1], [-1.35, -1.02, 1], [-1.11, -1.01, 1], [-0.85, -1.02, 1], [-0.68, -1.06, 1], [-0.19, -1.18, 1],
  [-0.4, -1.37, 1], [-0.58, -1.31, 1], [-0.36, -1.53, 1], [-0.59, -1.73, 1], [-0.64, -2.42, 1], [-0.72, -2.21, 1], [-1.15, -2.8, 1],
  [-3.05, -3.26, 1], [-2.89, -3.28, 1], [-2.76, -3.25, 2], [-2.62, -3.28, 1], [-2.5, -3.25, 2], [-2.37, -3.28, 1], [-2.24, -3.25, 2],
  [-2.11, -3.28, 1], [-1.98, -3.25, 1], [-1.82, -3.28, 1], [-1.66, -3.25, 1], [-1.46, -3.28, 1], [-1.28, -3.26, 1],
  [-3.14, -3.19, 1], [-3.0, -3.22, 2], [-2.88, -3.19, 2], [-2.78, -3.21, 2], [-2.67, -3.18, 3], [-2.56, -3.21, 2], [-2.45, -3.19, 2],
  [-2.34, -3.22, 3], [-2.22, -3.19, 2], [-2.12, -3.21, 2], [-2.01, -3.18, 2], [-1.9, -3.21, 1], [-1.77, -3.19, 2], [-1.64, -3.22, 1],
  [-1.5, -3.19, 1], [-1.36, -3.21, 1], [-1.16, -3.19, 1],
  [-3.26, -3.14, 1], [-3.11, -3.12, 2], [-2.99, -3.15, 3], [-2.88, -3.12, 3], [-2.79, -3.14, 3], [-2.69, -3.11, 3], [-2.59, -3.14, 3],
  [-2.49, -3.12, 3], [-2.39, -3.15, 3], [-2.3, -3.12, 2], [-2.19, -3.14, 3], [-2.08, -3.11, 2], [-1.98, -3.14, 2], [-1.86, -3.12, 2],
  [-1.75, -3.15, 1], [-1.63, -3.12, 2], [-1.52, -3.14, 1], [-1.39, -3.11, 1], [-1.25, -3.14, 1], [-1.07, -3.12, 1],
  [-3.33, -3.05, 1], [-3.19, -3.07, 2], [-3.06, -3.04, 3], [-2.95, -3.07, 3], [-2.85, -3.05, 4], [-2.75, -3.08, 3], [-2.65, -3.05, 4],
  [-2.55, -3.07, 3], [-2.45, -3.04, 3], [-2.35, -3.07, 3], [-2.25, -3.05, 3], [-2.14, -3.08, 2], [-2.04, -3.05, 3], [-1.93, -3.07, 2],
  [-1.82, -3.04, 2], [-1.71, -3.07, 2], [-1.59, -3.05, 1], [-1.47, -3.08, 1], [-1.33, -3.05, 1], [-1.15, -3.07, 1], [-0.93, -3.05, 1],
  [-3.28, -3.0, 1], [-3.14, -2.98, 2], [-3.02, -3.01, 3], [-2.91, -2.98, 4], [-2.81, -3.0, 4], [-2.71, -2.97, 4], [-2.61, -3.0, 3],
  [-2.51, -2.98, 4], [-2.41, -3.01, 3], [-2.31, -2.98, 3], [-2.2, -3.0, 3], [-2.1, -2.97, 2], [-1.99, -3.0, 2], [-1.89, -2.98, 2],
  [-1.78, -3.01, 2], [-1.67, -2.98, 2], [-1.55, -3.0, 1], [-1.42, -2.97, 1], [-1.28, -3.0, 1], [-1.1, -2.98, 1],
  [-3.35, -2.91, 1], [-3.21, -2.93, 2], [-3.08, -2.9, 3], [-2.97, -2.93, 3], [-2.87, -2.91, 4], [-2.77, -2.94, 4], [-2.67, -2.91, 3],
  [-2.57, -2.93, 4], [-2.47, -2.9, 3], [-2.37, -2.93, 3], [-2.26, -2.91, 3], [-2.16, -2.94, 2], [-2.06, -2.91, 2], [-1.95, -2.93, 2],
  [-1.85, -2.9, 1], [-1.74, -2.93, 2], [-1.61, -2.91, 1], [-1.49, -2.94, 1], [-1.36, -2.91, 1], [-1.19, -2.93, 1], [-0.85, -2.91, 1],
  [-3.3, -2.86, 1], [-3.16, -2.84, 2], [-3.04, -2.87, 3], [-2.93, -2.84, 4], [-2.83, -2.86, 4], [-2.73, -2.83, 4], [-2.63, -2.86, 4],
  [-2.53, -2.84, 3], [-2.43, -2.87, 3], [-2.33, -2.84, 3], [-2.22, -2.86, 3], [-2.12, -2.83, 2], [-2.02, -2.86, 2], [-1.91, -2.84, 2],
  [-1.8, -2.87, 2], [-1.69, -2.84, 1], [-1.57, -2.86, 1], [-1.44, -2.83, 1], [-1.3, -2.86, 1], [-1.13, -2.84, 1],
  [-3.37, -2.77, 1], [-3.23, -2.79, 2], [-3.1, -2.76, 3], [-2.99, -2.79, 4], [-2.89, -2.77, 4], [-2.79, -2.8, 4], [-2.69, -2.77, 4],
  [-2.59, -2.79, 3], [-2.49, -2.76, 3], [-2.39, -2.79, 3], [-2.28, -2.77, 3], [-2.18, -2.8, 2], [-2.08, -2.77, 2], [-1.98, -2.79, 2],
  [-1.87, -2.76, 2], [-1.76, -2.79, 2], [-1.65, -2.77, 1], [-1.52, -2.8, 1], [-1.38, -2.77, 1], [-1.22, -2.79, 1], [-1.01, -2.77, 1],
  [-3.31, -2.72, 2], [-3.18, -2.7, 2], [-3.06, -2.73, 3], [-2.95, -2.7, 4], [-2.85, -2.72, 4], [-2.75, -2.69, 4], [-2.65, -2.72, 4],
  [-2.55, -2.7, 4], [-2.45, -2.73, 3], [-2.35, -2.7, 3], [-2.24, -2.72, 3], [-2.14, -2.69, 3], [-2.04, -2.72, 2], [-1.93, -2.7, 2],
  [-1.82, -2.73, 2], [-1.71, -2.7, 2], [-1.6, -2.72, 1], [-1.47, -2.69, 1], [-1.33, -2.72, 1], [-1.15, -2.7, 1], [-0.9, -2.72, 1],
  [-3.35, -2.65, 1], [-3.22, -2.63, 2], [-3.1, -2.66, 3], [-3.0, -2.63, 4], [-2.9, -2.65, 4], [-2.8, -2.62, 4], [-2.7, -2.65, 4],
  [-2.6, -2.63, 4], [-2.5, -2.66, 4], [-2.4, -2.63, 3], [-2.3, -2.65, 3], [-2.19, -2.62, 3], [-2.09, -2.65, 2], [-1.99, -2.63, 2],
  [-1.88, -2.66, 2], [-1.77, -2.63, 2], [-1.66, -2.65, 1], [-1.54, -2.62, 1], [-1.41, -2.65, 1], [-1.26, -2.63, 1], [-1.07, -2.66, 1],
  [-3.29, -2.58, 2], [-3.16, -2.56, 3], [-3.04, -2.59, 3], [-2.94, -2.56, 4], [-2.84, -2.58, 4], [-2.74, -2.55, 4], [-2.64, -2.58, 4],
  [-2.54, -2.56, 4], [-2.44, -2.59, 3], [-2.34, -2.56, 3], [-2.24, -2.58, 3], [-2.14, -2.55, 3], [-2.04, -2.58, 2], [-1.93, -2.56, 2],
  [-1.83, -2.59, 2], [-1.72, -2.56, 2], [-1.61, -2.58, 1], [-1.49, -2.55, 1], [-1.35, -2.58, 1], [-1.2, -2.56, 1], [-0.97, -2.58, 1],
  [-3.34, -2.49, 1], [-3.21, -2.51, 2], [-3.09, -2.48, 3], [-2.98, -2.51, 4], [-2.88, -2.49, 4], [-2.78, -2.52, 4], [-2.68, -2.49, 4],
  [-2.58, -2.51, 4], [-2.48, -2.48, 4], [-2.38, -2.51, 3], [-2.28, -2.49, 3], [-2.18, -2.52, 3], [-2.08, -2.49, 3], [-1.98, -2.51, 2],
  [-1.88, -2.48, 2], [-1.77, -2.51, 2], [-1.66, -2.49, 2], [-1.55, -2.52, 1], [-1.43, -2.49, 1], [-1.29, -2.51, 1], [-1.11, -2.48, 1],
  [-0.81, -2.51, 1],
  [-3.28, -2.44, 2], [-3.15, -2.42, 3], [-3.03, -2.45, 3], [-2.93, -2.42, 4], [-2.83, -2.44, 4], [-2.73, -2.41, 4], [-2.63, -2.44, 4],
  [-2.53, -2.42, 4], [-2.43, -2.45, 3], [-2.33, -2.42, 4], [-2.23, -2.44, 3], [-2.13, -2.41, 3], [-2.03, -2.44, 3], [-1.93, -2.42, 2],
  [-1.82, -2.45, 2], [-1.71, -2.42, 2], [-1.6, -2.44, 2], [-1.48, -2.41, 1], [-1.36, -2.44, 1], [-1.22, -2.42, 1], [-1.03, -2.44, 1],
  [-3.33, -2.35, 1], [-3.2, -2.37, 2], [-3.08, -2.34, 3], [-2.97, -2.37, 3], [-2.87, -2.35, 4], [-2.77, -2.38, 4], [-2.67, -2.35, 4],
  [-2.57, -2.37, 4], [-2.47, -2.34, 4], [-2.37, -2.37, 3], [-2.27, -2.35, 4], [-2.17, -2.38, 3], [-2.07, -2.35, 3], [-1.97, -2.37, 2],
  [-1.86, -2.34, 2], [-1.75, -2.37, 2], [-1.64, -2.35, 2], [-1.53, -2.38, 1], [-1.41, -2.35, 1], [-1.27, -2.37, 1], [-1.09, -2.34, 1],
  [-0.87, -2.37, 1],
  [-3.26, -2.3, 2], [-3.13, -2.28, 2], [-3.01, -2.31, 3], [-2.91, -2.28, 4], [-2.81, -2.3, 4], [-2.71, -2.27, 4], [-2.61, -2.3, 4],
  [-2.51, -2.28, 4], [-2.41, -2.31, 4], [-2.31, -2.28, 3], [-2.21, -2.3, 3], [-2.11, -2.27, 3], [-2.01, -2.3, 3], [-1.91, -2.28, 2],
  [-1.8, -2.31, 2], [-1.69, -2.28, 2], [-1.58, -2.3, 2], [-1.46, -2.27, 1], [-1.33, -2.3, 1], [-1.17, -2.28, 1], [-0.95, -2.3, 1],
  [-3.31, -2.21, 1], [-3.18, -2.23, 2], [-3.06, -2.2, 3], [-2.95, -2.23, 3], [-2.85, -2.21, 4], [-2.75, -2.24, 4], [-2.65, -2.21, 4],
  [-2.55, -2.23, 4], [-2.45, -2.2, 3], [-2.35, -2.23, 3], [-2.25, -2.21, 3], [-2.15, -2.24, 3], [-2.05, -2.21, 3], [-1.95, -2.23, 2],
  [-1.84, -2.2, 2], [-1.73, -2.23, 2], [-1.62, -2.21, 2], [-1.51, -2.24, 1], [-1.39, -2.21, 1], [-1.25, -2.23, 1], [-1.05, -2.2, 1],
  [-0.75, -2.23, 1],
  [-3.25, -2.16, 1], [-3.12, -2.14, 2], [-3.0, -2.17, 3], [-2.89, -2.14, 3], [-2.79, -2.16, 4], [-2.69, -2.13, 4], [-2.59, -2.16, 4],
  [-2.49, -2.14, 3], [-2.39, -2.17, 3], [-2.29, -2.14, 3], [-2.19, -2.16, 3], [-2.09, -2.13, 3], [-1.99, -2.16, 2], [-1.89, -2.14, 2],
  [-1.78, -2.17, 2], [-1.67, -2.14, 2], [-1.56, -2.16, 1], [-1.44, -2.13, 1], [-1.31, -2.16, 1], [-1.15, -2.14, 1], [-0.91, -2.16, 1],
  [-3.29, -2.07, 1], [-3.16, -2.09, 2], [-3.04, -2.06, 2], [-2.93, -2.09, 3], [-2.83, -2.07, 3], [-2.73, -2.1, 3], [-2.63, -2.07, 3],
  [-2.53, -2.09, 3], [-2.43, -2.06, 3], [-2.33, -2.09, 3], [-2.23, -2.07, 3], [-2.13, -2.1, 2], [-2.03, -2.07, 2], [-1.93, -2.09, 2],
  [-1.82, -2.06, 2], [-1.71, -2.09, 2], [-1.6, -2.07, 1], [-1.48, -2.1, 1], [-1.35, -2.07, 1], [-1.2, -2.09, 1], [-1.0, -2.06, 1],
  [-0.7, -2.09, 1],
  [-3.22, -2.02, 1], [-3.09, -2.0, 2], [-2.97, -2.03, 2], [-2.87, -2.0, 3], [-2.77, -2.02, 3], [-2.67, -1.99, 3], [-2.57, -2.02, 3],
  [-2.47, -2.0, 3], [-2.37, -2.03, 2], [-2.27, -2.0, 3], [-2.17, -2.02, 2], [-2.07, -1.99, 2], [-1.97, -2.02, 2], [-1.86, -2.0, 2],
  [-1.75, -2.03, 1], [-1.64, -2.0, 1], [-1.52, -2.02, 1], [-1.39, -1.99, 1], [-1.25, -2.02, 1], [-1.07, -2.0, 1], [-0.83, -2.03, 1],
  [-3.17, -1.93, 1], [-3.04, -1.95, 1], [-2.92, -1.92, 2], [-2.81, -1.95, 2], [-2.71, -1.93, 3], [-2.61, -1.96, 2], [-2.51, -1.93, 3],
  [-2.41, -1.95, 2], [-2.31, -1.92, 2], [-2.21, -1.95, 2], [-2.11, -1.93, 2], [-2.01, -1.96, 2], [-1.91, -1.93, 1], [-1.8, -1.95, 2],
  [-1.69, -1.92, 1], [-1.57, -1.95, 1], [-1.44, -1.93, 1], [-1.3, -1.96, 1], [-1.13, -1.93, 1], [-0.92, -1.95, 1], [-0.65, -1.92, 1],
  [-3.1, -1.88, 1], [-2.97, -1.86, 1], [-2.85, -1.89, 2], [-2.75, -1.86, 2], [-2.65, -1.88, 2], [-2.55, -1.85, 2], [-2.45, -1.88, 2],
  [-2.35, -1.86, 2], [-2.25, -1.89, 2], [-2.15, -1.86, 2], [-2.05, -1.88, 1], [-1.95, -1.85, 2], [-1.84, -1.88, 1], [-1.73, -1.86, 1],
  [-1.61, -1.89, 1], [-1.49, -1.86, 1], [-1.36, -1.88, 1], [-1.21, -1.85, 1], [-1.03, -1.88, 1], [-0.79, -1.86, 1],
  [-3.03, -1.79, 1], [-2.9, -1.81, 1], [-2.79, -1.78, 2], [-2.68, -1.81, 2], [-2.58, -1.79, 2], [-2.48, -1.82, 2], [-2.38, -1.79, 1],
  [-2.28, -1.81, 2], [-2.18, -1.78, 1], [-2.08, -1.81, 2], [-1.98, -1.79, 1], [-1.87, -1.82, 1], [-1.76, -1.79, 1], [-1.64, -1.81, 1],
  [-1.52, -1.78, 1], [-1.39, -1.81, 1], [-1.25, -1.79, 1], [-1.09, -1.82, 1], [-0.87, -1.79, 1], [-0.61, -1.81, 1],
  [-2.97, -1.74, 1], [-2.83, -1.72, 1], [-2.72, -1.75, 2], [-2.61, -1.72, 1], [-2.51, -1.74, 2], [-2.41, -1.71, 1], [-2.31, -1.74, 2],
  [-2.21, -1.72, 1], [-2.11, -1.75, 1], [-2.01, -1.72, 1], [-1.9, -1.74, 1], [-1.79, -1.71, 1], [-1.67, -1.74, 1], [-1.55, -1.72, 1],
  [-1.42, -1.75, 1], [-1.28, -1.72, 1], [-1.12, -1.74, 1], [-0.95, -1.71, 1], [-0.73, -1.74, 1],
  [-2.91, -1.65, 1], [-2.77, -1.67, 1], [-2.65, -1.64, 1], [-2.54, -1.67, 2], [-2.44, -1.65, 1], [-2.34, -1.68, 1], [-2.24, -1.65, 1],
  [-2.14, -1.67, 1], [-2.03, -1.64, 1], [-1.92, -1.67, 1], [-1.81, -1.65, 1], [-1.69, -1.68, 1], [-1.57, -1.65, 1], [-1.44, -1.67, 1],
  [-1.3, -1.64, 1], [-1.15, -1.67, 1], [-0.99, -1.65, 1], [-0.81, -1.67, 1],
  [-2.85, -1.6, 1], [-2.71, -1.58, 1], [-2.58, -1.61, 1], [-2.47, -1.58, 1], [-2.36, -1.6, 1], [-2.26, -1.57, 1], [-2.15, -1.6, 1],
  [-2.04, -1.58, 1], [-1.93, -1.61, 1], [-1.82, -1.58, 1], [-1.7, -1.6, 1], [-1.58, -1.57, 1], [-1.45, -1.6, 1], [-1.31, -1.58, 1],
  [-1.17, -1.61, 1], [-1.03, -1.58, 1],
  [-2.79, -1.51, 1], [-2.65, -1.53, 1], [-2.52, -1.5, 1], [-2.4, -1.53, 1], [-2.28, -1.51, 1], [-2.17, -1.54, 1], [-2.05, -1.51, 1],
  [-1.94, -1.53, 1], [-1.82, -1.5, 1], [-1.7, -1.53, 1], [-1.57, -1.51, 1], [-1.44, -1.54, 1], [-1.29, -1.51, 1], [-1.13, -1.53, 1],
  [-2.73, -1.46, 1], [-2.58, -1.44, 1], [-2.45, -1.47, 1], [-2.32, -1.44, 1], [-2.2, -1.46, 1], [-2.08, -1.43, 1], [-1.96, -1.46, 1],
  [-1.84, -1.44, 1], [-1.71, -1.47, 1], [-1.58, -1.44, 1], [-1.45, -1.46, 1], [-1.31, -1.43, 1], [-1.17, -1.46, 1],
  [-2.65, -1.37, 1], [-2.5, -1.39, 1], [-2.37, -1.36, 1], [-2.24, -1.39, 1], [-2.12, -1.37, 1], [-1.99, -1.4, 1], [-1.86, -1.37, 1],
  [-1.73, -1.39, 1], [-1.59, -1.36, 1], [-1.45, -1.39, 1], [-1.31, -1.37, 1], [-1.16, -1.39, 1],
  [-2.57, -1.32, 1], [-2.41, -1.3, 1], [-2.27, -1.33, 1], [-2.13, -1.3, 1], [-2.0, -1.32, 1], [-1.87, -1.29, 1], [-1.73, -1.32, 1],
  [-1.59, -1.3, 1], [-1.44, -1.33, 1], [-1.29, -1.3, 1],
  [-2.5, -1.23, 1], [-2.33, -1.25, 1], [-2.18, -1.22, 1], [-2.03, -1.25, 1], [-1.89, -1.23, 1], [-1.74, -1.26, 1], [-1.59, -1.23, 1],
  [-1.43, -1.25, 1], [-1.27, -1.22, 1],
  [-2.4, -1.18, 1], [-2.23, -1.16, 1], [-2.07, -1.19, 1], [-1.91, -1.16, 1], [-1.75, -1.18, 1], [-1.58, -1.15, 1], [-1.41, -1.18, 1],
  [-2.31, -1.09, 1], [-2.13, -1.11, 1], [-1.96, -1.08, 1], [-1.79, -1.11, 1], [-1.61, -1.09, 1], [-1.43, -1.12, 1],
  [-2.2, -1.04, 1], [-2.01, -1.02, 1], [-1.83, -1.05, 1], [-1.64, -1.02, 1], [-1.45, -1.04, 1],
  [-2.07, -0.97, 1], [-1.87, -0.95, 1], [-1.67, -0.98, 1], [-1.47, -0.96, 1],
];

// dense core between the rows above: [institution, words per spot, female shares]
const femaleCore: [number, number, number[]][] = [
  [-3.17, 2, [-3.12, -2.99, -2.88, -2.78, -2.67, -2.57, -2.46, -2.3, -2.19, -2.08, -1.97]],
  [-3.1, 2, [-3.22, -3.08, -2.95, -2.85, -2.75, -2.65, -2.55, -2.45, -2.35, -2.25, -2.14, -2.03, -1.92, -1.81]],
  [-3.03, 2, [-3.28, -3.16, -3.04, -2.91, -2.81, -2.71, -2.61, -2.51, -2.41, -2.31, -2.2, -2.09, -1.99, -1.88]],
  [-2.96, 2, [-3.22, -3.11, -3.0, -2.89, -2.79, -2.69, -2.59, -2.49, -2.39, -2.28, -2.18, -2.07, -1.96]],
  [-2.89, 2, [-3.31, -3.19, -3.07, -2.96, -2.86, -2.76, -2.66, -2.56, -2.46, -2.36, -2.25, -2.15, -2.04, -1.93, -1.82]],
  [-2.82, 2, [-3.25, -3.13, -3.02, -2.92, -2.82, -2.72, -2.62, -2.52, -2.42, -2.31, -2.21, -2.1, -1.99]],
  [-2.75, 2, [-3.32, -3.2, -3.08, -2.97, -2.87, -2.77, -2.67, -2.57, -2.47, -2.37, -2.26, -2.16, -2.05, -1.94, -1.83]],
  [-2.68, 2, [-3.28, -3.16, -3.05, -2.95, -2.85, -2.75, -2.65, -2.55, -2.45, -2.34, -2.24, -2.13, -2.02, -1.91]],
  [-2.61, 2, [-3.33, -3.21, -3.1, -3.0, -2.9, -2.8, -2.7, -2.6, -2.5, -2.4, -2.3, -2.19, -2.08, -1.97, -1.86]],
  [-2.54, 2, [-3.27, -3.15, -3.04, -2.94, -2.84, -2.74, -2.64, -2.54, -2.44, -2.34, -2.24, -2.14, -2.03, -1.92, -1.81]],
  [-2.47, 2, [-3.32, -3.2, -3.09, -2.98, -2.88, -2.78, -2.68, -2.58, -2.48, -2.38, -2.28, -2.18, -2.08, -1.97, -1.86, -1.75]],
  [-2.4, 2, [-3.26, -3.14, -3.03, -2.93, -2.83, -2.73, -2.63, -2.53, -2.43, -2.33, -2.23, -2.13, -2.03, -1.92, -1.81, -1.7]],
  [-2.33, 2, [-3.31, -3.19, -3.08, -2.97, -2.87, -2.77, -2.67, -2.57, -2.47, -2.37, -2.27, -2.17, -2.07, -1.96, -1.85, -1.74]],
  [-2.26, 2, [-3.25, -3.13, -3.02, -2.92, -2.82, -2.72, -2.62, -2.52, -2.42, -2.32, -2.22, -2.12, -2.02, -1.91, -1.8, -1.69]],
  [-2.19, 2, [-3.3, -3.18, -3.07, -2.96, -2.86, -2.76, -2.66, -2.56, -2.46, -2.36, -2.26, -2.16, -2.05, -1.94, -1.83, -1.72]],
  [-2.12, 2, [-3.24, -3.12, -3.0, -2.89, -2.79, -2.69, -2.59, -2.49, -2.39, -2.29, -2.19, -2.09, -1.98, -1.87, -1.76]],
  [-2.05, 1, [-3.17, -3.04, -2.93, -2.83, -2.73, -2.63, -2.53, -2.43, -2.33, -2.23, -2.13, -2.02, -1.91, -1.8]],
  [-1.98, 1, [-3.1, -2.97, -2.87, -2.77, -2.67, -2.57, -2.47, -2.37, -2.27, -2.17, -2.06, -1.95]],
  [-1.91, 1, [-3.03, -2.91, -2.81, -2.71, -2.61, -2.51, -2.41, -2.31, -2.21, -2.1, -1.99]],
  [-1.84, 1, [-2.96, -2.85, -2.75, -2.65, -2.55, -2.45, -2.35, -2.25, -2.14]],
];

// [institution, words per spot, male shares]
const maleCore: [number, number, number[]][] = [
  [-3.17, 2, [-3.07, -2.94, -2.83, -2.73, -2.62, -2.52, -2.41, -2.25, -2.14, -2.03, -1.92]],
  [-3.1, 2, [-3.17, -3.03, -2.9, -2.8, -2.7, -2.6, -2.5, -2.4, -2.3, -2.2, -2.09, -1.98, -1.87, -1.76]],
  [-3.03, 2, [-3.23, -3.11, -2.99, -2.86, -2.76, -2.66, -2.56, -2.46, -2.36, -2.26, -2.15, -2.04, -1.94, -1.83]],
  [-2.96, 2, [-3.17, -3.06, -2.95, -2.84, -2.74, -2.64, -2.54, -2.44, -2.34, -2.23, -2.13, -2.02, -1.91]],
  [-2.89, 2, [-3.26, -3.14, -3.02, -2.91, -2.81, -2.71, -2.61, -2.51, -2.41, -2.31, -2.2, -2.1, -1.99, -1.88, -1.77]],
  [-2.82, 2, [-3.2, -3.08, -2.97, -2.87, -2.77, -2.67, -2.57, -2.47, -2.37, -2.26, -2.16, -2.05, -1.94]],
  [-2.75, 2, [-3.27, -3.15, -3.03, -2.92, -2.82, -2.72, -2.62, -2.52, -2.42, -2.32, -2.21, -2.11, -2.0, -1.89, -1.78]],
  [-2.68, 2, [-3.23, -3.11, -3.0, -2.9, -2.8, -2.7, -2.6, -2.5, -2.4, -2.29, -2.19, -2.08, -1.97, -1.86]],
  [-2.61, 2, [-3.28, -3.16, -3.05, -2.95, -2.85, -2.75, -2.65, -2.55, -2.45, -2.35, -2.25, -2.14, -2.03, -1.92, -1.81]],
  [-2.54, 2, [-3.22, -3.1, -2.99, -2.89, -2.79, -2.69, -2.59, -2.49, -2.39, -2.29, -2.19, -2.09, -1.98, -1.87, -1.76]],
  [-2.47, 2, [-3.27, -3.15, -3.04, -2.93, -2.83, -2.73, -2.63, -2.53, -2.43, -2.33, -2.23, -2.13, -2.03, -1.92, -1.81, -1.7]],
  [-2.4, 2, [-3.21, -3.09, -2.98, -2.88, -2.78, -2.68, -2.58, -2.48, -2.38, -2.28, -2.18, -2.08, -1.98, -1.87, -1.76, -1.65]],
  [-2.33, 2, [-3.26, -3.14, -3.03, -2.92, -2.82, -2.72, -2.62, -2.52, -2.42, -2.32, -2.22, -2.12, -2.02, -1.91, -1.8, -1.69]],
  [-2.26, 2, [-3.2, -3.08, -2.97, -2.87, -2.77, -2.67, -2.57, -2.47, -2.37, -2.27, -2.17, -2.07, -1.97, -1.86, -1.75, -1.64]],
  [-2.19, 2, [-3.25, -3.13, -3.02, -2.91, -2.81, -2.71, -2.61, -2.51, -2.41, -2.31, -2.21, -2.11, -2.0, -1.89, -1.78, -1.67]],
  [-2.12, 2, [-3.19, -3.07, -2.95, -2.84, -2.74, -2.64, -2.54, -2.44, -2.34, -2.24, -2.14, -2.04, -1.93, -1.82, -1.71]],
  [-2.05, 1, [-3.12, -2.99, -2.88, -2.78, -2.68, -2.58, -2.48, -2.38, -2.28, -2.18, -2.08, -1.97, -1.86, -1.75]],
  [-1.98, 1, [-3.05, -2.92, -2.82, -2.72, -2.62, -2.52, -2.42, -2.32, -2.22, -2.12, -2.01, -1.9]],
  [-1.91, 1, [-2.98, -2.86, -2.76, -2.66, -2.56, -2.46, -2.36, -2.26, -2.16, -2.05, -1.94]],
  [-1.84, 1, [-2.91, -2.8, -2.7, -2.6, -2.5, -2.4, -2.3, -2.2, -2.09]],
];

const FONT = "'Liberation Sans', Arial, Helvetica, sans-serif";

const App: React.FC = () => {
  const svgRef = useRef<SVGSVGElement>(null);

  useEffect(() => {
    if (!svgRef.current) return;
    const svg = d3.select(svgRef.current);
    svg.selectAll("*").remove();

    const panelW = 580;
    const panelH = 803;
    const top = 62;
    const lefts = [155, 750];
    const pct = (v: number) => 10 ** v;

    const x = d3.scaleLog().domain([pct(-3.502), pct(1.194)]).range([0, panelW]);
    const y = d3.scaleLog().domain([pct(-3.483), pct(1.428)]).range([panelH, 0]);

    // title
    svg
      .append("text")
      .attr("x", 153)
      .attr("y", 40)
      .style("font-family", FONT)
      .style("font-size", "35.3px")
      .attr("fill", "#000")
      .text("Comparing words: institution / male | female");

    // y axis title
    svg
      .append("text")
      .attr("transform", `translate(37,${top + panelH / 2}) rotate(-90)`)
      .attr("text-anchor", "middle")
      .style("font-family", FONT)
      .style("font-size", "29.5px")
      .attr("fill", "#000")
      .text("institution");

    // y tick labels
    svg
      .append("g")
      .selectAll("text")
      .data(tickValues)
      .join("text")
      .attr("x", 139)
      .attr("y", (d) => top + y(d))
      .attr("dy", "0.36em")
      .attr("text-anchor", "end")
      .style("font-family", FONT)
      .style("font-size", "22.4px")
      .attr("fill", "#4D4D4D")
      .text((d, i) => tickLabels[i]);

    panels.forEach((name, i) => {
      const words = i === 0 ? femaleLabels : maleLabels;
      const dots = i === 0 ? femaleDots : maleDots;
      const core = i === 0 ? femaleCore : maleCore;
      const g = svg.append("g").attr("transform", `translate(${lefts[i]},${top})`);
      const clipId = `clip-${name}`;
      g.append("clipPath").attr("id", clipId).append("rect").attr("width", panelW).attr("height", panelH);

      const [y0, y1] = y.domain();
      const [x0, x1] = x.domain();
      const grid = g.append("g");
      // minor gridlines
      grid
        .selectAll("line.vmin")
        .data(minorTicks.filter((t) => t >= x0 * 0.999 && t <= x1))
        .join("line")
        .attr("x1", (d) => Math.max(0.6, x(d)))
        .attr("x2", (d) => Math.max(0.6, x(d)))
        .attr("y1", 0)
        .attr("y2", panelH)
        .attr("stroke", "#EBEBEB")
        .attr("stroke-width", 1.3);
      grid
        .selectAll("line.hmin")
        .data(minorTicks.filter((t) => t >= y0 && t <= y1))
        .join("line")
        .attr("x1", 0)
        .attr("x2", panelW)
        .attr("y1", (d) => y(d))
        .attr("y2", (d) => y(d))
        .attr("stroke", "#EBEBEB")
        .attr("stroke-width", 1.3);
      // major gridlines
      grid
        .selectAll("line.vmaj")
        .data(tickValues)
        .join("line")
        .attr("x1", (d) => x(d))
        .attr("x2", (d) => x(d))
        .attr("y1", 0)
        .attr("y2", panelH)
        .attr("stroke", "#EBEBEB")
        .attr("stroke-width", 2.6);
      grid
        .selectAll("line.hmaj")
        .data(tickValues)
        .join("line")
        .attr("x1", 0)
        .attr("x2", panelW)
        .attr("y1", (d) => y(d))
        .attr("y2", (d) => y(d))
        .attr("stroke", "#EBEBEB")
        .attr("stroke-width", 2.6);

      const plot = g.append("g").attr("clip-path", `url(#${clipId})`);

      // each word at a spot gets its own translucent circle
      const spots: [number, number, number][] = [
        ...dots,
        ...core.flatMap(([inst, n, shares]) => shares.map((s) => [s, inst, n] as [number, number, number])),
      ];
      const circles = spots.flatMap((d) => d3.range(d[2]).map(() => d));
      plot
        .append("g")
        .selectAll("circle")
        .data(circles)
        .join("circle")
        .attr("cx", (d) => x(pct(d[0])))
        .attr("cy", (d) => y(pct(d[1])))
        .attr("r", 4.8)
        .attr("fill", "#000")
        .attr("fill-opacity", 0.11)
        .attr("stroke", "#000")
        .attr("stroke-opacity", 0.11)
        .attr("stroke-width", 1.2);

      // word labels sit just below their point (vjust 1.5)
      plot
        .append("g")
        .selectAll("text")
        .data(words)
        .join("text")
        .attr("x", (d) => x(pct(d[1])))
        .attr("y", (d) => y(pct(d[2])) + 9)
        .attr("dy", "0.35em")
        .attr("text-anchor", "middle")
        .style("font-family", FONT)
        .style("font-size", "11.3px")
        .attr("fill", "#000")
        .text((d) => d[0]);

      // y = x reference line
      plot
        .append("line")
        .attr("x1", x(1e-5))
        .attr("y1", y(1e-5))
        .attr("x2", x(100))
        .attr("y2", y(100))
        .attr("stroke", "#FF0000")
        .attr("stroke-width", 2.6)
        .attr("stroke-dasharray", "9,8");

      // strip label below the panel
      g.append("text")
        .attr("x", panelW / 2)
        .attr("y", panelH + 32)
        .attr("text-anchor", "middle")
        .style("font-family", FONT)
        .style("font-size", "22.4px")
        .attr("fill", "#1A1A1A")
        .text(name);

      // x tick labels
      g.append("g")
        .selectAll("text")
        .data(tickValues)
        .join("text")
        .attr("x", (d) => x(d))
        .attr("y", panelH + 77)
        .attr("text-anchor", "middle")
        .style("font-family", FONT)
        .style("font-size", "22.4px")
        .attr("fill", "#4D4D4D")
        .text((d, k) => tickLabels[k]);
    });
  }, []);

  return (
    <svg
      ref={svgRef}
      width={1344}
      height={960}
      style={{ position: "absolute", left: 0, top: 0, background: "#fff" }}
    />
  );
};

export default App;
